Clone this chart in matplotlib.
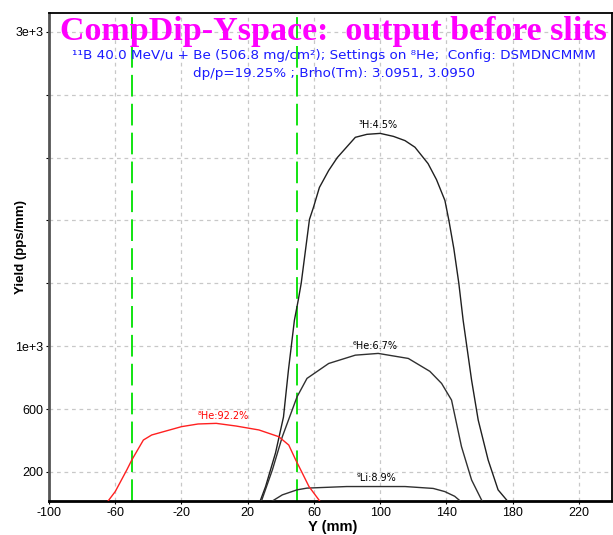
import matplotlib
matplotlib.use("Agg")
import matplotlib.pyplot as plt
from matplotlib.ticker import FixedLocator, FixedFormatter

plt.rcParams["axes.unicode_minus"] = False

# ---- data ----
h3_x = [27, 30.8, 36.8, 41.6, 44.6, 48.2, 50.5, 52.3, 57.3, 59.7, 63.3, 68.9, 74.1, 80, 85, 92, 100,
        108, 115, 121, 128.9, 134, 139.1, 141.5, 144.5, 147.5, 150.1, 155.2, 159.2, 165.2, 171.2, 177.2, 178.5]
h3_y = [0, 107, 321, 549, 848, 1165, 1292, 1400, 1807, 1883, 2010, 2118, 2200, 2270, 2329, 2348, 2354,
        2335, 2308, 2266, 2162, 2060, 1927, 1800, 1620, 1400, 1165, 784, 530, 276, 86, 11, 0]

he6_x = [27.8, 34.9, 40.9, 49.8, 55.8, 68.9, 85, 98.8, 117, 130, 137.1, 143.1, 149.1, 155.2, 161.2, 162.6]
he6_y = [0, 213, 424, 678, 795, 890, 943, 954, 922, 840, 763, 657, 361, 149, 22, 0]

li9_x = [32.6, 40.9, 49.8, 55.8, 79.8, 115, 132, 139, 145, 150]
li9_y = [0, 54, 86, 97, 107, 107, 95, 75, 45, 0]

he8_x = [-65.4, -60, -53, -50, -43, -38, -20, -10, 1, 13, 26.8, 38.8, 44.8, 49, 53, 57, 63, 64.5]
he8_y = [0, 75, 213, 276, 403, 435, 488, 505, 509, 492, 467, 424, 371, 276, 192, 107, 22, 0]

labels = ["\u00b3H:4.5%", "\u2076He:6.7%", "\u2079Li:8.9%", "\u2078He:92.2%"]
label_x = [99, 97, 98, 5]
label_y = [2410, 1000, 162, 556]
label_c = ["black", "black", "black", "red"]

slits = [-50, 50]

x_ticks = [-100, -60, -20, 20, 60, 100, 140, 180, 220]
y_ticks = [200, 600, 1000, 1400, 1800, 2200, 2600, 3000]
y_tick_labels = ["200", "600", "1e+3", "", "", "", "", "3e+3"]

title = "CompDip-Yspace:  output before slits"
sub1 = "\u00b9\u00b9B 40.0 MeV/u + Be (506.8 mg/cm\u00b2); Settings on \u2078He;  Config: DSMDNCMMM"
sub2 = "dp/p=19.25% ; Brho(Tm): 3.0951, 3.0950"

# ---- figure ----
W, H = 613, 535
fig = plt.figure(figsize=(W/100, H/100), dpi=100)
ax = fig.add_axes([49/W, 1-501/H, (612-49)/W, (501-13)/H])

sans = ["Liberation Sans", "DejaVu Sans"]
wide = ["DejaVu Sans"]

ax.set_xlim(-100, 240)
ax.set_ylim(15, 3120)

ax.xaxis.set_major_locator(FixedLocator(x_ticks))
ax.yaxis.set_major_locator(FixedLocator(y_ticks))
ax.yaxis.set_major_formatter(FixedFormatter(y_tick_labels))
ax.tick_params(length=2, width=0.8, labelsize=9, pad=2)
for lab in ax.get_xticklabels() + ax.get_yticklabels():
    lab.set_fontfamily(sans)

ax.grid(True, color="#c8c8c8", linestyle=(0, (3, 3)), linewidth=0.9)
ax.set_axisbelow(True)

ax.spines["left"].set_color("#555555")
ax.spines["left"].set_linewidth(2)
ax.spines["bottom"].set_color("black")
ax.spines["bottom"].set_linewidth(2)
ax.spines["top"].set_linewidth(1.3)
ax.spines["right"].set_linewidth(1.3)

for s in slits:
    ax.axvline(s, color="#00e000", linestyle=(0, (12, 4)), linewidth=1.3, zorder=2)

ax.plot(h3_x, h3_y, color="#202020", linewidth=1.0, zorder=3)
ax.plot(he6_x, he6_y, color="#303030", linewidth=1.0, zorder=3)
ax.plot(li9_x, li9_y, color="#303030", linewidth=1.0, zorder=3)
ax.plot(he8_x, he8_y, color="#ff2020", linewidth=1.0, zorder=3)

for t, x, y, c in zip(labels, label_x, label_y, label_c):
    ax.text(x, y, t, color=c, fontsize=7, ha="center", va="center", family=wide, zorder=4)

ax.text(0.5053, (501-40)/488, title, transform=ax.transAxes, ha="center", va="baseline",
        fontsize=24.5, fontweight="bold", color="#ff00ff", family=["Liberation Serif", "DejaVu Serif"])
ax.text(0.506, (501-59.3)/488, sub1, transform=ax.transAxes, ha="center", va="baseline",
        fontsize=9.7, color="#1a1aff", family=wide)
ax.text(0.506, (501-77.3)/488, sub2, transform=ax.transAxes, ha="center", va="baseline",
        fontsize=9.7, color="#1a1aff", family=wide)

fig.text(333/W, 1-527/H, "Y (mm)", fontsize=10.5, fontweight="bold", family=sans,
         ha="center", va="center")
fig.text(21/W, 1-247/H, "Yield (pps/mm)", fontsize=9.5, fontweight="bold", family=sans,
         ha="center", va="center", rotation=90)

fig.savefig("out.png", dpi=100)
